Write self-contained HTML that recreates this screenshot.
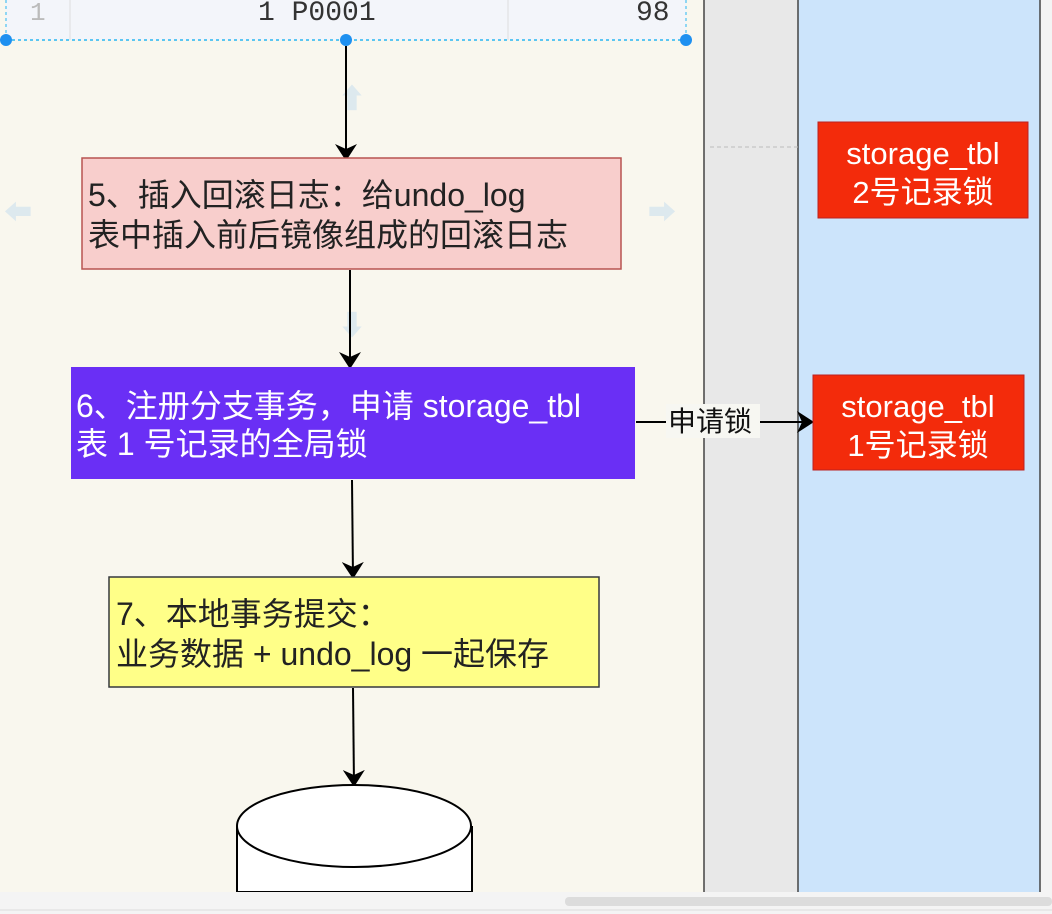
<!DOCTYPE html>
<html><head><meta charset="utf-8"><style>
html,body{margin:0;padding:0;width:1052px;height:914px;overflow:hidden;background:#f9f7ee;}
svg{display:block}
.t{font-family:"Liberation Sans","Noto Sans CJK SC",sans-serif;}
.m{font-family:"Liberation Mono","DejaVu Sans Mono",monospace;}
</style></head><body>
<svg width="1052" height="914" viewBox="0 0 1052 914">
<defs><marker id="a" markerWidth="18" markerHeight="22" refX="16" refY="11" orient="auto" markerUnits="userSpaceOnUse"><path d="M0,0 L17,11 L0,22 L5,11 Z" fill="#000"/></marker></defs>
<rect x="0" y="0" width="704" height="892" fill="#f9f7ee"/>
<rect x="704" y="0" width="94" height="892" fill="#e8e8e8"/>
<rect x="798" y="0" width="242" height="892" fill="#cce4fb"/>
<rect x="1040" y="0" width="12" height="892" fill="#f4f4f4"/>
<line x1="704" y1="0" x2="704" y2="892" stroke="#444" stroke-width="1.5"/>
<line x1="798" y1="0" x2="798" y2="892" stroke="#444" stroke-width="1.5"/>
<line x1="1040" y1="0" x2="1040" y2="892" stroke="#444" stroke-width="1.5"/>
<line x1="710" y1="147" x2="798" y2="147" stroke="#bbb" stroke-dasharray="4,3"/>
<rect x="6" y="0" width="680" height="40" fill="#f3f5fa"/>
<line x1="70" y1="0" x2="70" y2="40" stroke="#ddd"/>
<line x1="508" y1="0" x2="508" y2="40" stroke="#ddd"/>
<text class="m" x="30" y="20" font-size="26" fill="#bbb">1</text>
<text class="m" x="258" y="20" font-size="28" fill="#333">1 P0001</text>
<text class="m" x="636" y="20" font-size="28" fill="#333">98</text>
<line x1="6" y1="40" x2="686" y2="40" stroke="#29b6f2" stroke-width="1.5" stroke-dasharray="3,3"/>
<line x1="6" y1="0" x2="6" y2="40" stroke="#29b6f2" stroke-dasharray="3,3"/>
<line x1="686" y1="0" x2="686" y2="40" stroke="#29b6f2" stroke-dasharray="3,3"/>
<circle cx="6" cy="40" r="6" fill="#1e90f0"/><circle cx="346" cy="40" r="6" fill="#1e90f0"/><circle cx="686" cy="40" r="6" fill="#1e90f0"/>
<text class="t" x="338" y="108" font-size="28" fill="#dde9ee">⬆</text>
<text class="t" x="4" y="222" font-size="28" fill="#dde9ee">⬅</text>
<text class="t" x="648" y="222" font-size="28" fill="#dde9ee">➡</text>
<text class="t" x="338" y="335" font-size="28" fill="#dde9ee">⬇</text>
<line x1="346" y1="46" x2="346" y2="160" stroke="#000" stroke-width="2" marker-end="url(#a)"/>
<line x1="350" y1="270" x2="350" y2="368" stroke="#000" stroke-width="2" marker-end="url(#a)"/>
<line x1="352" y1="480" x2="353" y2="578" stroke="#000" stroke-width="2" marker-end="url(#a)"/>
<line x1="353" y1="688" x2="354" y2="786" stroke="#000" stroke-width="2" marker-end="url(#a)"/>
<line x1="636" y1="422" x2="813" y2="422" stroke="#000" stroke-width="2" marker-end="url(#a)"/>
<rect x="666" y="404" width="94" height="34" fill="#f7f7f2"/>
<text class="t" x="668" y="431" font-size="28" fill="#111">申请锁</text>
<rect x="82" y="158" width="539" height="111" fill="#f8cecc" stroke="#b85450" stroke-width="1.5"/>
<text class="t" x="88" y="206" font-size="32" fill="#222">5、插入回滚日志：给undo_log</text>
<text class="t" x="88" y="246" font-size="32" fill="#222">表中插入前后镜像组成的回滚日志</text>
<rect x="71" y="367" width="564" height="112" fill="#6a2ff5"/>
<text class="t" x="76" y="417" font-size="32" fill="#fff">6、注册分支事务，申请 storage_tbl</text>
<text class="t" x="76" y="455" font-size="32" fill="#fff">表 1 号记录的全局锁</text>
<rect x="109" y="577" width="490" height="110" fill="#ffff88" stroke="#36393d" stroke-width="1.5"/>
<text class="t" x="116" y="625" font-size="32" fill="#222">7、本地事务提交：</text>
<text class="t" x="116" y="665" font-size="32" fill="#222">业务数据 + undo_log 一起保存</text>
<rect x="818" y="122" width="210" height="96" fill="#f32b0b" stroke="#b22" stroke-width="1"/>
<text class="t" x="923" y="164" font-size="31" fill="#fff" text-anchor="middle">storage_tbl</text>
<text class="t" x="923" y="203" font-size="31" fill="#fff" text-anchor="middle">2号记录锁</text>
<rect x="813" y="375" width="211" height="95" fill="#f32b0b" stroke="#b22" stroke-width="1"/>
<text class="t" x="918" y="417" font-size="31" fill="#fff" text-anchor="middle">storage_tbl</text>
<text class="t" x="918" y="456" font-size="31" fill="#fff" text-anchor="middle">1号记录锁</text>
<path d="M237,826 L237,892 L472,892 L472,826" fill="#fff" stroke="#000" stroke-width="2"/>
<ellipse cx="354" cy="826" rx="117" ry="41" fill="#fff" stroke="#000" stroke-width="2"/>
<rect x="0" y="892" width="1052" height="22" fill="#f4f4f4"/>
<rect x="565" y="897" width="487" height="9" rx="4" fill="#dcdcdc"/>
<line x1="0" y1="910" x2="1052" y2="910" stroke="#ddd"/>
</svg>
</body></html>
